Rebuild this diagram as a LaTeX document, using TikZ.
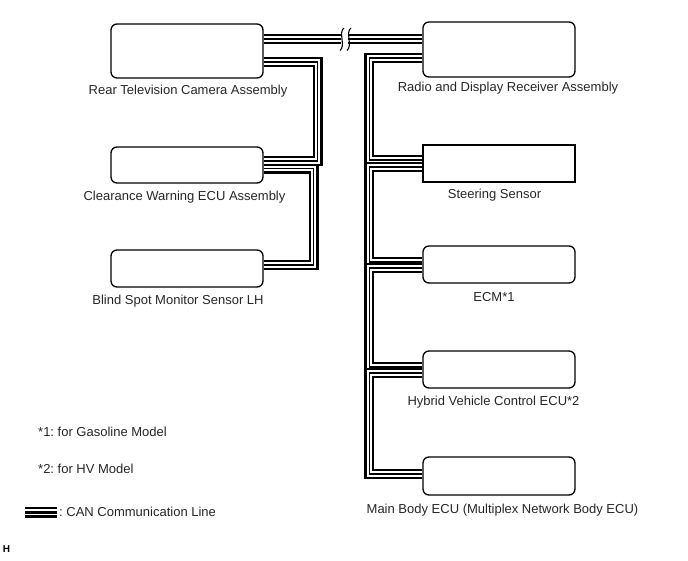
\documentclass[tikz,border=0pt]{standalone}
\usepackage{fontspec}
\setmainfont{Liberation Sans}
\frenchspacing
\begin{document}
\begin{tikzpicture}[x=1pt,y=-1pt,
  box/.style={draw, line width=1.3pt, rounded corners=6pt, minimum width=152pt, inner sep=0pt},
  sqbox/.style={draw, line width=1.2pt, minimum width=152pt, inner sep=0pt},
  lbl/.style={font=\fontsize{13}{15}\selectfont, inner sep=0pt, text=black!85},
  note/.style={font=\fontsize{13}{15}\selectfont, inner sep=0pt, anchor=west, text=black!85},
  can/.style={draw=black, line width=10pt,
    postaction={draw=white, line width=5.4pt},
    postaction={draw=black, line width=1.4pt}},
  brkmark/.style={draw=black, line width=1.1pt}]
\useasboundingbox (0,0) rectangle (688,560);

% left boxes
\node[box, minimum height=54pt] (rtv) at (187,51) {};
\node[box, minimum height=36pt] (cw)  at (187,165) {};
\node[box, minimum height=37pt] (bsm) at (187,268.5) {};
% right boxes
\node[box, minimum height=55pt] (radio) at (499,49.5) {};
\node[sqbox, minimum height=37pt] (ss) at (499,163.5) {};
\node[box, minimum height=37pt] (ecm) at (499,264.5) {};
\node[box, minimum height=37pt] (hv)  at (499,369.5) {};
\node[box, minimum height=38pt] (mb)  at (499,476) {};

% labels
\node[lbl] (rtvl) at (188,91) {Rear Television Camera Assembly};
\node[lbl] (cwl) at (184.5,197) {Clearance Warning ECU Assembly};
\node[lbl] (bsml) at (178,301) {Blind Spot Monitor Sensor LH};
\node[lbl] (radiol) at (508,88) {Radio and Display Receiver Assembly};
\node[lbl] (ssl) at (494.5,195) {Steering Sensor};
\node[lbl] (ecml) at (494,297) {ECM*1};
\node[lbl] (hvl) at (493.5,402) {Hybrid Vehicle Control ECU*2};
\node[lbl] (mbl) at (502.5,510) {Main Body ECU (Multiplex Network Body ECU)};

% top line with break
\coordinate (brk1) at (341,39);
\coordinate (brk2) at (348,39);
\draw[can] ([yshift=12pt]rtv.east) -- (brk1);
\draw[can] (brk2) -- ([yshift=10.5pt]radio.west);
\draw[brkmark] (344,28) .. controls (338,32) and (346,46) .. (340,50.5);
\draw[brkmark] (351,28) .. controls (345,32) and (353,46) .. (347,50.5);

% left bus
\draw[can] ([yshift=-11pt]rtv.east) -- ++(54,0) |- ([yshift=4pt]cw.east);
\draw[can] ([yshift=-3.5pt]cw.east) -- ++(50,0) |- ([yshift=3.5pt]bsm.east);

% right bus
\draw[can] ([yshift=-8.5pt]radio.west) -- ++(-53,0) |- ([yshift=3.5pt]ss.west);
\draw[can] ([yshift=-3.5pt]ss.west) -- ++(-53,0) |- ([yshift=2.5pt]ecm.west);
\draw[can] ([yshift=-3.5pt]ecm.west) -- ++(-53,0) |- ([yshift=2.5pt]hv.west);
\draw[can] ([yshift=-3.5pt]hv.west) -- ++(-53,0) |- ([yshift=2pt]mb.west);

% notes
\node[note] (n1) at (38,432) {*1: for Gasoline Model};
\node[note] (n2) at (38,469) {*2: for HV Model};
\draw[line width=2.6pt] (25,508) -- (57,508);
\draw[line width=2.6pt] (25,512.3) -- (57,512.3);
\draw[line width=2.6pt] (25,516.6) -- (57,516.6);
\node[note] (n3) at (59,512) {: CAN Communication Line};
\node[font=\bfseries\fontsize{10}{11}\selectfont, inner sep=0pt] (hmark) at (6.5,549.5) {H};
\end{tikzpicture}
\end{document}
